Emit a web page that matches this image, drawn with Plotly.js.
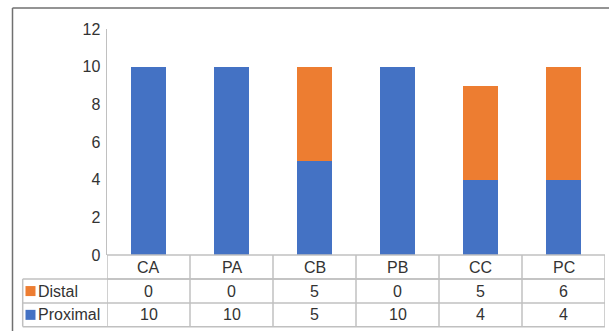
<!DOCTYPE html>
<html>
<head>
<meta charset="utf-8">
<script src="https://cdn.plot.ly/plotly-3.0.1.min.js"></script>
<style>
  html, body { margin: 0; padding: 0; background: #fff; }
  #chart { width: 609px; height: 331px; }
</style>
</head>
<body>
<div id="chart"></div>
<script>
// Stacked counts per group, with a data table under the category axis
const categories = ['CA', 'PA', 'CB', 'PB', 'CC', 'PC'];
const distal = [0, 0, 5, 0, 5, 6];
const proximal = [10, 10, 5, 10, 4, 4];
const seriesNames = ['Distal', 'Proximal'];
const yTicks = [0, 2, 4, 6, 8, 10, 12];

const BLUE = '#4472C4';
const ORANGE = '#ED7D31';
const GRID = '#c0c0c0';
const TEXT = '#333333';
const FONT = 'Liberation Sans, Arial, sans-serif';
const FS = 16;

const W = 609, H = 331;
const M = { l: 107, r: 4, t: 29.4, b: 76 };
const plotW = W - M.l - M.r;
const plotH = H - M.t - M.b;

// pixel -> paper helpers for the table drawn below the plot area
const px = x => (x - M.l) / plotW;
const py = y => (H - M.b - y) / plotH;

const traces = [
  { type: 'bar', name: seriesNames[1], x: categories, y: proximal, marker: { color: BLUE }, hoverinfo: 'x+y+name' },
  { type: 'bar', name: seriesNames[0], x: categories, y: distal, marker: { color: ORANGE }, hoverinfo: 'x+y+name' }
];

const shapes = [];
const annotations = [];

// table row boundaries (pixels)
const rowTop = H - M.b;      // header row starts at the zero line
const rowH = [24, 24, 23.5];
const rows = [rowTop];
rowH.forEach(h => rows.push(rows[rows.length - 1] + h));
const tableLeft = 22.7;

const line = (x0, y0, x1, y1, xref, color, w) => shapes.push({
  type: 'line', xref: xref, yref: 'paper', x0: x0, x1: x1, y0: y0, y1: y1,
  line: { color: color, width: w || 1 }, layer: 'above'
});

const label = (x, xref, y, text, xanchor) => annotations.push({
  x: x, xref: xref, y: y, yref: 'paper', text: text, showarrow: false,
  xanchor: xanchor || 'center', yanchor: 'middle',
  font: { family: FONT, size: FS, color: TEXT }
});

// horizontal lines
line(-0.5, py(rows[1]), categories.length - 0.5, py(rows[1]), 'x', GRID, 1.5);
line(px(tableLeft), py(rows[1]), 1, py(rows[1]), 'paper', GRID, 1.5);
line(px(tableLeft), py(rows[2]), 1, py(rows[2]), 'paper', GRID, 1.5);
line(px(tableLeft), py(rows[3]), 1, py(rows[3]), 'paper', GRID, 1.5);
line(-0.5, 0, categories.length - 0.5, 0, 'x', GRID, 1.5);

// vertical lines
for (let i = 0; i <= categories.length; i++) {
  line(i - 0.5, py(rows[0]), i - 0.5, py(rows[3]), 'x', GRID, 1.5);
}
line(px(tableLeft), py(rows[1]), px(tableLeft), py(rows[3]), 'paper', GRID, 1.5);

// cell text
const mid = k => py((rows[k] + rows[k + 1]) / 2);
categories.forEach((c, i) => {
  label(c, 'x', mid(0), c);
  label(c, 'x', mid(1), String(distal[i]));
  label(c, 'x', mid(2), String(proximal[i]));
});

// legend keys inside the table
[[seriesNames[0], ORANGE, 1], [seriesNames[1], BLUE, 2]].forEach(([name, col, k]) => {
  const cy = (rows[k] + rows[k + 1]) / 2;
  shapes.push({ type: 'rect', xref: 'paper', yref: 'paper',
    x0: px(25.5), x1: px(35.5), y0: py(cy - 5), y1: py(cy + 5),
    fillcolor: col, line: { width: 0 } });
  label(px(36), 'paper', py(cy), name, 'left');
});

// outer frame
line(px(12.5), py(8.5), px(12.5), py(H + 5), 'paper', '#707070', 1.5);
line(px(12.5), py(8.5), px(W + 5), py(8.5), 'paper', '#707070', 1.5);

const layout = {
  width: W, height: H,
  margin: M,
  paper_bgcolor: '#fff', plot_bgcolor: '#fff',
  barmode: 'stack',
  bargap: 0.59,
  showlegend: false,
  font: { family: FONT, size: FS, color: TEXT },
  xaxis: {
    type: 'category', range: [-0.5, categories.length - 0.5],
    showticklabels: false, ticks: '', showgrid: false, zeroline: false, showline: false, fixedrange: true
  },
  yaxis: {
    range: [0, 12], tickvals: yTicks, ticktext: yTicks.map(String),
    showgrid: false, zeroline: false, showline: true, linecolor: GRID, linewidth: 1.5,
    ticks: '', ticklabelstandoff: 2, tickfont: { family: FONT, size: FS, color: TEXT }, fixedrange: true
  },
  shapes: shapes,
  annotations: annotations
};

Plotly.newPlot('chart', traces, layout, { displayModeBar: false, staticPlot: true });
</script>
</body>
</html>
